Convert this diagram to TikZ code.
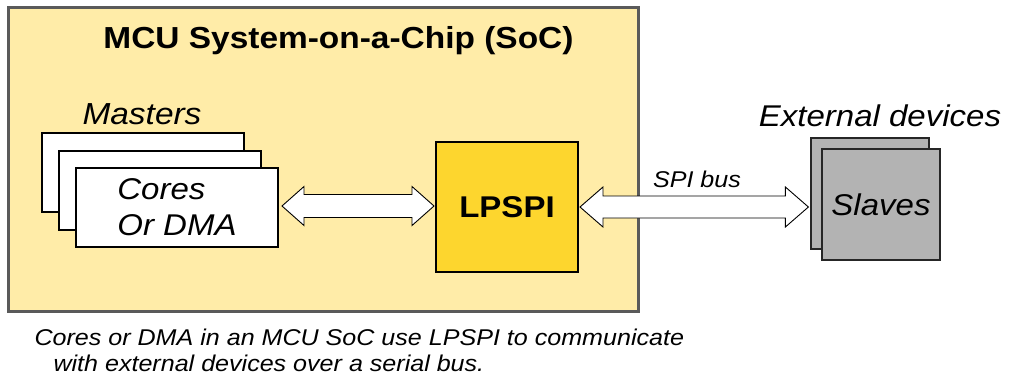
\documentclass[tikz,border=0pt]{standalone}
\usepackage{fontspec}
\setmainfont{Liberation Sans}[FakeStretch=1.1]
\usetikzlibrary{calc}
\definecolor{socfill}{RGB}{255,236,168}
\definecolor{socdraw}{RGB}{90,90,90}
\definecolor{lpfill}{RGB}{253,214,46}
\definecolor{slavefill}{RGB}{179,179,179}
\newcommand{\dblarrow}[5]{%
  \draw[blockarrow] (#1) -- ($(#1)+(#3,-#4)$) -- ($(#1)+(#3,-#5)$) -- ($(#2)+(-#3,-#5)$) -- ($(#2)+(-#3,-#4)$) -- (#2)
    -- ($(#2)+(-#3,#4)$) -- ($(#2)+(-#3,#5)$) -- ($(#1)+(#3,#5)$) -- ($(#1)+(#3,#4)$) -- cycle;}
\tikzset{
  small/.style={font=\fontsize{22.8}{27}\selectfont\itshape},
  socbox/.style={draw=socdraw, fill=socfill, line width=3pt, minimum width=630pt, minimum height=304pt, inner sep=0pt},
  masterbox/.style={draw=black, fill=white, line width=2pt, minimum width=202pt, minimum height=79pt, inner sep=0pt},
  lpbox/.style={draw=black, fill=lpfill, line width=2pt, minimum width=142pt, minimum height=130pt, inner sep=0pt},
  slavebox/.style={draw=black!85, fill=slavefill, line width=1.2pt, minimum width=118pt, minimum height=111pt, inner sep=0pt},
  blockarrow/.style={draw=black, fill=white, line width=0.9pt, line join=miter},
}
\begin{document}
\begin{tikzpicture}[x=1pt,y=-1pt]
\useasboundingbox[fill=white] (0,0) rectangle (1010,378);
\node[socbox] (soc) at (323,159) {};
\node[font=\fontsize{30.4}{36}\selectfont\bfseries, anchor=base] (title) at (338.5,48) {MCU System-on-a-Chip (SoC)};
\node[font=\fontsize{30.4}{36}\selectfont\itshape, anchor=base] (masters) at (142,124) {Masters};
\node[masterbox] (m1) at (143,172) {};
\node[masterbox] (m2) at (160,190) {};
\node[masterbox, font=\fontsize{30}{36}\selectfont\itshape, align=left] (m3) at (177,207.5) {Cores\\Or DMA};
\node[lpbox, font=\fontsize{30}{36}\selectfont\bfseries] (lpspi) at (507,207) {LPSPI};
\node[font=\fontsize{30}{36}\selectfont\itshape, anchor=base] (ext) at (880,126) {External devices};
\node[slavebox] (slb) at (870,193.5) {};
\node[slavebox, font=\fontsize{30}{36}\selectfont\itshape] (slf) at (881,204.5) {Slaves};
\coordinate (a1l) at ($(m3.east |- lpspi.west)+(3,-1)$);
\coordinate (a1r) at ($(lpspi.west)+(-1,-1)$);
\dblarrow{a1l}{a1r}{22}{19.5}{11.5}
\coordinate (a2l) at ($(lpspi.east)+(1,0)$);
\coordinate (a2r) at ($(lpspi.east -| slb.west)+(-2,0)$);
\dblarrow{a2l}{a2r}{23}{20}{11}
\node[small, anchor=base] (spi) at (697,187) {SPI bus};
\node[small, anchor=base west] (cap1) at (31,345) {Cores or DMA in an MCU SoC use LPSPI to communicate};
\node[small, anchor=base west] (cap2) at (50,371) {with external devices over a serial bus.};
\end{tikzpicture}
\end{document}
